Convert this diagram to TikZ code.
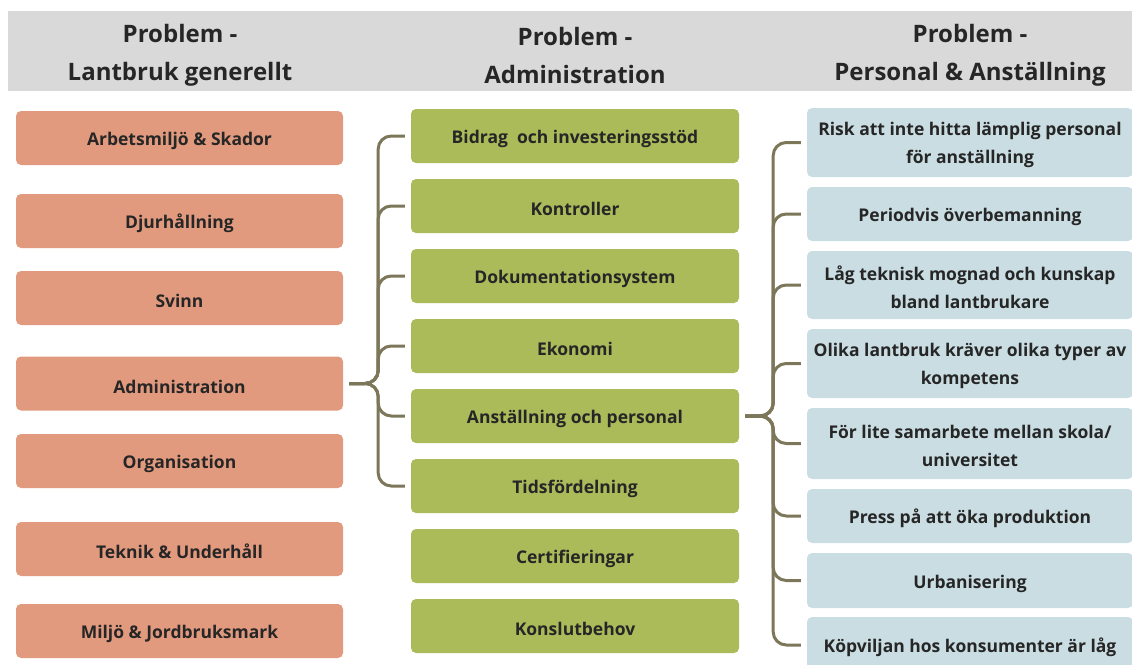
\documentclass[tikz,border=0pt]{standalone}
\usepackage{fontspec}
\setmainfont{Open Sans}
\definecolor{hdrgray}{HTML}{D9D9D9}
\definecolor{salmon}{HTML}{E29A7E}
\definecolor{olivegreen}{HTML}{ABBB5A}
\definecolor{paleblue}{HTML}{C9DDE2}
\definecolor{bracecol}{HTML}{7D775A}
\definecolor{txt}{HTML}{262626}
\tikzset{
  hdr/.style={font=\bfseries\fontsize{24}{38}\selectfont, text=txt, align=center},
  box/.style={rounded corners=5pt, inner sep=0pt, text=txt, align=center,
    font=\bfseries\fontsize{17.5}{28}\selectfont,
    execute at begin node={\rule{0pt}{20pt}}},
  lbox/.style={box, fill=salmon, minimum width=327pt, minimum height=54pt},
  mbox/.style={box, fill=olivegreen, minimum width=328pt, minimum height=54pt},
  rbox/.style={box, fill=paleblue, minimum width=326pt},
  brace/.style={draw=bracecol, line width=3pt, rounded corners=13pt},
}
\begin{document}
\begin{tikzpicture}[x=1pt, y=-1pt]
        \useasboundingbox (0,0) rectangle (1132,664);

        % Kopfband
        \fill[hdrgray] (8,11) rectangle (1132,91);
        \node[hdr] (h1) at (180,55) {Problem -\\Lantbruk generellt};
        \node[hdr] (h2) at (575,55) {Problem -\\Administration};
        \node[hdr] (h3) at (970,55) {Problem -\\Personal \& Anställning};

        % Linke Spalte
        \foreach \y/\t [count=\i] in {138/Arbetsmiljö \& Skador, 221/Djurhållning,
            298/Svinn, 383.5/Administration, 461/Organisation,
            549/Teknik \& Underhåll, 631/Miljö \& Jordbruksmark} {
            \node[lbox] (l\i) at (179.5,\y) {\t};
        }

        % Mittlere Spalte
        \foreach \t [count=\i] in {Bidrag\ \ och investeringsstöd, Kontroller,
            Dokumentationsystem, Ekonomi, Anställning och personal,
            Tidsfördelning, Certifieringar, Konslutbehov} {
            \node[mbox] (m\i) at (575,66+70*\i) {\t};
        }

        % Rechte Spalte
        \foreach \y/\h/\th/\t [count=\i] in {
            142.5/69/47/{Risk att inte hitta lämplig personal\\för anställning},
            214/54/20/{Periodvis överbemanning},
            285/68/47/{Låg teknisk mognad och kunskap\\bland lantbrukare},
            363.5/69/47/{Olika lantbruk kräver olika typer av\\kompetens},
            443.5/71/47/{För lite samarbete mellan skola/\\universitet},
            516/54/20/{Press på att öka produktion},
            580.5/55/20/{Urbanisering},
            645/56/20/{Köpviljan hos konsumenter är låg}} {
            \node[rbox, minimum height=\h pt, text height=\th pt] (r\i) at (970,\y) {\t};
        }

        % Klammern
        \coordinate (ls) at ([xshift=35pt]l4.east);
        \foreach \i in {1,...,6}
            \draw[brace] ([xshift=6pt]l4.east) -- (ls) |- ([xshift=-6pt]m\i.west);
        \coordinate (rs) at ([xshift=34pt]m5.east);
        \foreach \i in {1,...,8}
            \draw[brace] ([xshift=6pt]m5.east) -- (rs) |- ([xshift=-6pt]r\i.west);
\end{tikzpicture}
\end{document}
